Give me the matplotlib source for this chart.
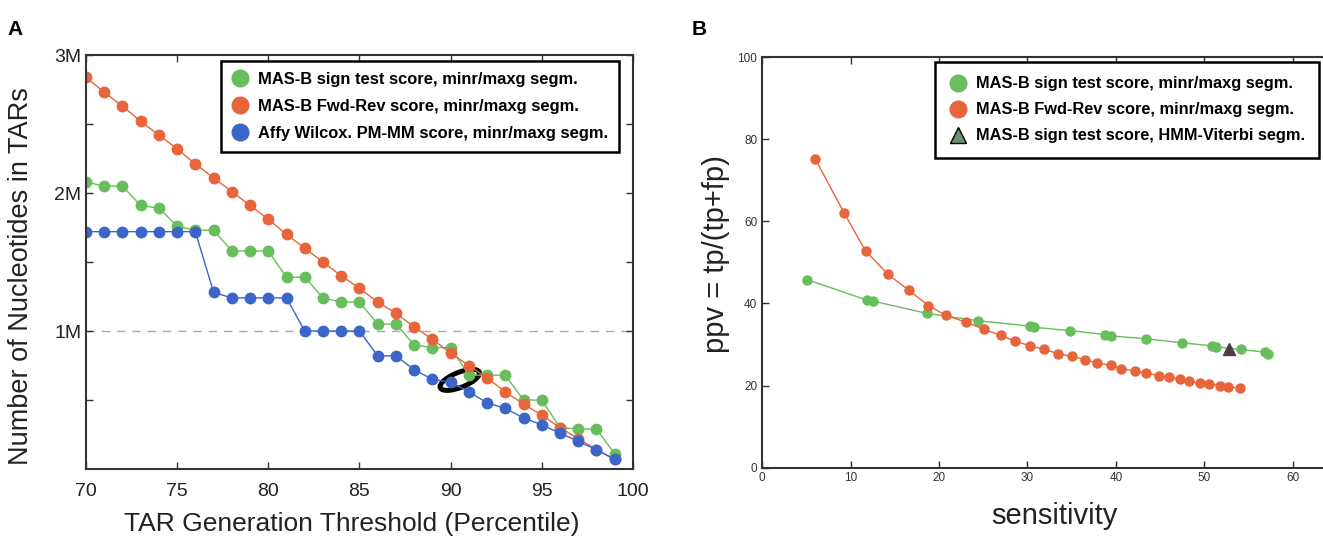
import matplotlib
matplotlib.use("Agg")
import matplotlib.pyplot as plt
from matplotlib.lines import Line2D
from matplotlib.patches import Ellipse
from matplotlib.transforms import ScaledTranslation

plt.rcParams['font.family'] = ['Liberation Sans', 'DejaVu Sans']

# panel A: nucleotides in TARs (millions) per threshold percentile
thresholds = list(range(70, 100))
fwdrev_a = [2.84, 2.73, 2.63, 2.52, 2.42, 2.32, 2.21, 2.11, 2.01, 1.91,
            1.81, 1.70, 1.60, 1.50, 1.40, 1.31, 1.21, 1.13, 1.03, 0.94,
            0.84, 0.75, 0.66, 0.56, 0.47, 0.39, 0.30, 0.22, 0.14, 0.07]
sign_a = [2.08, 2.05, 2.05, 1.91, 1.89, 1.76, 1.73, 1.73, 1.58, 1.58,
          1.58, 1.39, 1.39, 1.24, 1.21, 1.21, 1.05, 1.05, 0.90, 0.88,
          0.88, 0.68, 0.68, 0.68, 0.50, 0.50, 0.30, 0.29, 0.29, 0.11]
affy_a = [1.72, 1.72, 1.72, 1.72, 1.72, 1.72, 1.72, 1.28, 1.24, 1.24,
          1.24, 1.24, 1.00, 1.00, 1.00, 1.00, 0.82, 0.82, 0.72, 0.65,
          0.63, 0.56, 0.48, 0.44, 0.37, 0.32, 0.26, 0.20, 0.14, 0.07]
circled = (90.5, 0.646)

# panel B: ppv vs sensitivity
sens_fwd = [6.0, 9.3, 11.7, 14.2, 16.6, 18.8, 20.8, 23.1, 25.1, 27.0,
            28.6, 30.3, 31.9, 33.4, 35.0, 36.5, 37.9, 39.4, 40.6, 42.1,
            43.4, 44.9, 46.0, 47.2, 48.3, 49.5, 50.5, 51.8, 52.7, 54.0]
ppv_fwd = [75.3, 62.0, 52.8, 47.2, 43.2, 39.5, 37.1, 35.4, 33.7, 32.2,
           30.8, 29.7, 28.8, 27.8, 27.1, 26.3, 25.5, 24.9, 24.1, 23.6,
           23.0, 22.4, 22.0, 21.5, 21.0, 20.6, 20.3, 20.0, 19.7, 19.3]
sens_sign = [5.1, 11.9, 12.5, 18.6, 24.4, 30.25, 30.7, 34.8, 38.8, 39.4,
             43.4, 47.5, 50.8, 51.3, 54.1, 56.9, 57.2]
ppv_sign = [45.8, 40.8, 40.6, 37.6, 35.8, 34.5, 34.2, 33.4, 32.4, 32.1,
            31.4, 30.4, 29.7, 29.4, 28.8, 28.1, 27.8]
hmm_point = (52.8, 28.8)

labels_a = ['MAS-B sign test score, minr/maxg segm.',
            'MAS-B Fwd-Rev score, minr/maxg segm.',
            'Affy Wilcox. PM-MM score, minr/maxg segm.']
labels_b = ['MAS-B sign test score, minr/maxg segm.',
            'MAS-B Fwd-Rev score, minr/maxg segm.',
            'MAS-B sign test score, HMM-Viterbi segm.']

green = '#68bd5c'
orange = '#e8643a'
blue = '#3b65c9'
spine_col = '#333333'
text_col = '#222222'

fig = plt.figure(figsize=(13.23, 5.45), dpi=100)

# ---------- panel A ----------
ax = fig.add_axes([0.0650, 0.1394, 0.4134, 0.7596])
M = 1e6
ax.plot(thresholds, [v * M for v in sign_a], '-o', color=green, lw=1, ms=7.5)
ax.plot(thresholds, [v * M for v in fwdrev_a], '-o', color=orange, lw=1, ms=7.5)
ax.plot(thresholds, [v * M for v in affy_a], '-o', color=blue, lw=1, ms=7.5)
ax.axhline(1 * M, color='#aaaaaa', ls=(0, (6, 5)), lw=1, zorder=0)

# black ring drawn around the 90th percentile point
ell = Ellipse((0, 0), 0.42, 0.15, angle=22, fill=False, ec='black', lw=3.6,
              transform=fig.dpi_scale_trans + ScaledTranslation(circled[0], circled[1] * M, ax.transData))
ax.add_patch(ell)

ax.set_xlim(70, 100)
ax.set_ylim(0, 3 * M)
ax.set_xticks(range(70, 101, 5))
ax.set_yticks([1 * M, 2 * M, 3 * M])
ax.set_yticklabels(['1M', '2M', '3M'])
ax.set_yticks([0.5 * M, 1.5 * M, 2.5 * M], minor=True)
ax.tick_params(which='both', direction='in', top=True, right=True, length=5,
               width=1, color=spine_col, labelsize=14, labelcolor=text_col)
ax.tick_params(axis='x', pad=10)
for s in ax.spines.values():
    s.set_color(spine_col)
    s.set_linewidth(1.5)
ax.set_xlabel('TAR Generation Threshold (Percentile)', fontsize=19, color=text_col)
ax.xaxis.set_label_coords(0.486, -0.105)
ax.set_ylabel('Number of Nucleotides in TARs', fontsize=19.5, color=text_col)
ax.yaxis.set_label_coords(-0.095, 0.465)

handles_a = [Line2D([], [], ls='none', marker='o', ms=12, color=c) for c in (green, orange, blue)]
leg = ax.legend(handles_a, labels_a, loc='upper left', bbox_to_anchor=(0.246, 0.985),
                fancybox=False, framealpha=1, edgecolor='black',
                prop={'weight': 'bold', 'size': 11.9}, handlelength=1.0,
                handletextpad=0.6, labelspacing=0.72, borderpad=0.65, borderaxespad=0)
leg.get_frame().set_linewidth(1.8)

fig.text(0.006, 0.935, 'A', fontsize=15, fontweight='bold')

# ---------- panel B ----------
bx = fig.add_axes([0.5760, 0.1422, 0.4240, 0.7523])
bx.plot(sens_sign, ppv_sign, '-o', color=green, lw=1, ms=6.5)
bx.plot(sens_fwd, ppv_fwd, '-o', color=orange, lw=1, ms=6.5)
bx.plot([hmm_point[0]], [hmm_point[1]], ls='none', marker='^', color='#4a3f47', ms=9)

bx.set_xlim(0, 63.4)
bx.set_ylim(0, 100)
bx.set_xticks(range(0, 61, 10))
bx.set_yticks(range(0, 101, 20))
bx.tick_params(direction='in', top=True, length=5, width=1, color=spine_col,
               labelsize=8.5, labelcolor='#333333')
bx.spines['right'].set_visible(False)
for s in ('left', 'top', 'bottom'):
    bx.spines[s].set_color(spine_col)
    bx.spines[s].set_linewidth(1.5)
bx.set_xlabel('sensitivity', fontsize=21, color=text_col)
bx.xaxis.set_label_coords(0.522, -0.083)
bx.set_ylabel('ppv = tp/(tp+fp)', fontsize=21, color=text_col)
bx.yaxis.set_label_coords(-0.058, 0.52)

handles_b = [Line2D([], [], ls='none', marker='o', ms=12, color=green),
             Line2D([], [], ls='none', marker='o', ms=12, color=orange),
             Line2D([], [], ls='none', marker='^', ms=12, mfc='#6f8f72', mec='black', mew=1)]
leg_b = bx.legend(handles_b, labels_b, loc='upper left', bbox_to_anchor=(0.308, 0.99),
                  fancybox=False, framealpha=1, edgecolor='black',
                  prop={'weight': 'bold', 'size': 11.75}, handlelength=1.0,
                  handletextpad=0.6, labelspacing=0.68, borderpad=0.9, borderaxespad=0)
leg_b.get_frame().set_linewidth(1.8)

fig.text(0.523, 0.935, 'B', fontsize=15, fontweight='bold')

fig.savefig('out.png', dpi=100)
